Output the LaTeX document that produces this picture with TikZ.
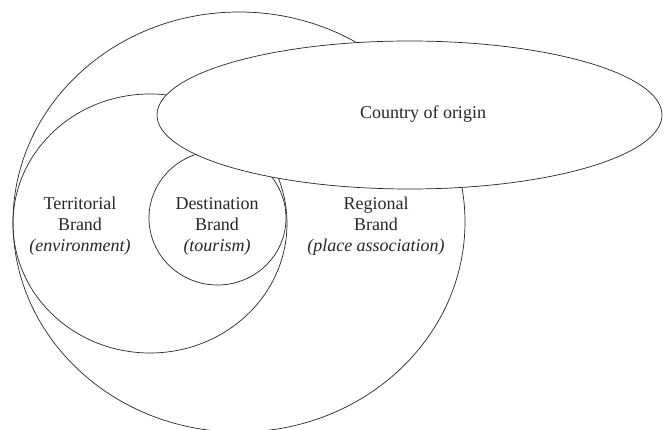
\documentclass[tikz,border=0pt]{standalone}
\usepackage{fontspec}
\setmainfont{Liberation Serif}
\begin{document}
\begin{tikzpicture}[x=1pt,y=-1pt,
  shapeline/.style={draw=black!85, line width=0.7pt},
  lbl/.style={align=center, font=\fontsize{18}{21}\selectfont, inner sep=0pt, text=black!85}]
\useasboundingbox (0,0) rectangle (665,430);
% Regional brand (outer)
\draw[shapeline] (239,222) ellipse [x radius=226, y radius=210];
% Territorial brand
\draw[shapeline] (150,223.5) ellipse [x radius=137, y radius=129.5];
% Destination brand
\draw[shapeline] (217.5,218) ellipse [x radius=68.5, y radius=67];
% Country of origin
\draw[shapeline, fill=white] (409.5,115) ellipse [x radius=252.5, y radius=74];
\node[lbl] (coo) at (423,114) {Country of origin};
\node[lbl] (terr) at (80,226) {Territorial\\Brand\\\textit{(environment)}};
\node[lbl] (dest) at (217,226) {Destination\\Brand\\\textit{(tourism)}};
\node[lbl] (reg) at (376,226) {Regional\\Brand\\\textit{(place association)}};
\end{tikzpicture}
\end{document}
